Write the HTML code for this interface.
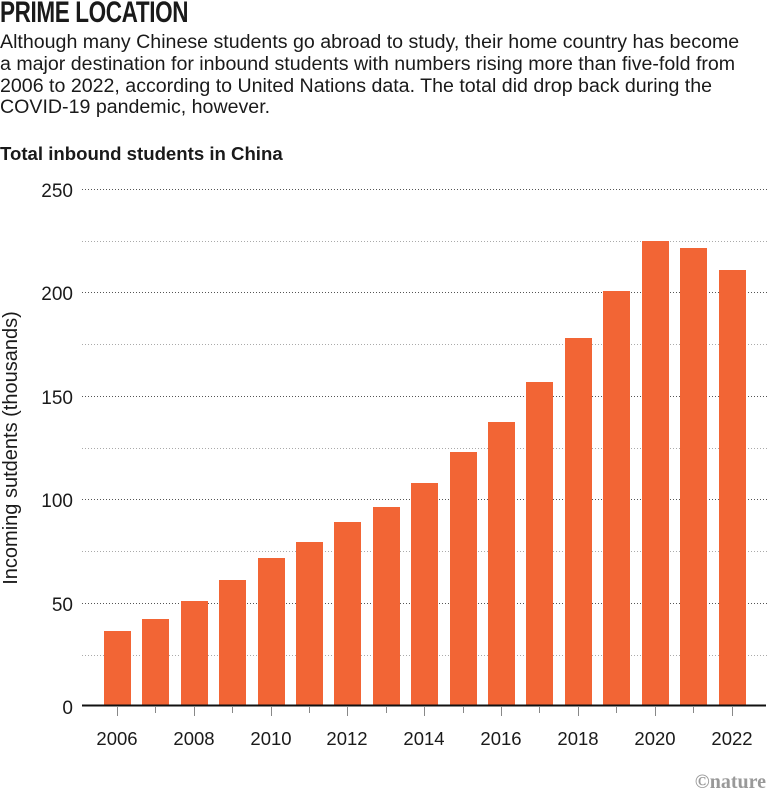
<!DOCTYPE html>
<html><head><meta charset="utf-8"><style>
body{margin:0;background:#fff;width:767px;height:798px;overflow:hidden;font-family:"Liberation Sans",sans-serif;color:#1a1a1a}
.t{position:absolute;left:0;top:-4px;font-weight:bold;font-size:30px;transform:scaleX(0.75);transform-origin:left;letter-spacing:-0.5px}
.d{position:absolute;left:0;top:32px;font-size:19.6px;line-height:21.8px;width:800px;white-space:nowrap}
.s{position:absolute;left:0;top:143px;font-weight:bold;font-size:18.6px}
</style></head><body>
<div class="t">PRIME LOCATION</div>
<div class="d">Although many Chinese students go abroad to study, their home country has become<br>a major destination for inbound students with numbers rising more than five-fold from<br>2006 to 2022, according to United Nations data. The total did drop back during the<br>COVID-19 pandemic, however.</div>
<div class="s">Total inbound students in China</div>
<svg width="767" height="798" style="position:absolute;left:0;top:0" font-family="Liberation Sans, sans-serif">
<g stroke="#555" stroke-width="1" stroke-dasharray="1,2">
<line x1="82" x2="767" y1="189.5" y2="189.5"/>
<line x1="82" x2="767" y1="292.5" y2="292.5"/>
<line x1="82" x2="767" y1="396.5" y2="396.5"/>
<line x1="82" x2="767" y1="499.5" y2="499.5"/>
<line x1="82" x2="767" y1="603.5" y2="603.5"/>
</g>
<g stroke="#aaa" stroke-width="1" stroke-dasharray="1,2">
<line x1="82" x2="767" y1="241.5" y2="241.5"/>
<line x1="82" x2="767" y1="344.5" y2="344.5"/>
<line x1="82" x2="767" y1="448.5" y2="448.5"/>
<line x1="82" x2="767" y1="551.5" y2="551.5"/>
<line x1="82" x2="767" y1="655.5" y2="655.5"/>
</g>
<g font-size="19" fill="#1a1a1a" text-anchor="end">
<text x="73" y="197">250</text><text x="73" y="300">200</text><text x="73" y="404">150</text>
<text x="73" y="507">100</text><text x="73" y="611">50</text><text x="73" y="714">0</text>
</g>
<text transform="translate(17,448) rotate(-90)" font-size="20" text-anchor="middle" fill="#1a1a1a">Incoming sutdents (thousands)</text>
<g fill="#f26535">
<rect x="104" y="631" width="27" height="75"/>
<rect x="142" y="619" width="27" height="87"/>
<rect x="181" y="601" width="27" height="105"/>
<rect x="219" y="580" width="27" height="126"/>
<rect x="258" y="558" width="27" height="148"/>
<rect x="296" y="542" width="27" height="164"/>
<rect x="334" y="522" width="27" height="184"/>
<rect x="373" y="507" width="27" height="199"/>
<rect x="411" y="483" width="27" height="223"/>
<rect x="450" y="452" width="27" height="254"/>
<rect x="488" y="422" width="27" height="284"/>
<rect x="526" y="382" width="27" height="324"/>
<rect x="565" y="338" width="27" height="368"/>
<rect x="603" y="291" width="27" height="415"/>
<rect x="642" y="241" width="27" height="465"/>
<rect x="680" y="248" width="27" height="458"/>
<rect x="719" y="270" width="27" height="436"/>
</g>
<line x1="82" x2="766" y1="705.5" y2="705.5" stroke="#111" stroke-width="2"/>
<g stroke="#888" stroke-width="1">
<line x1="117.5" x2="117.5" y1="706" y2="716"/><line x1="155.5" x2="155.5" y1="706" y2="713"/>
<line x1="194.5" x2="194.5" y1="706" y2="716"/><line x1="232.5" x2="232.5" y1="706" y2="713"/>
<line x1="271.5" x2="271.5" y1="706" y2="716"/><line x1="309.5" x2="309.5" y1="706" y2="713"/>
<line x1="347.5" x2="347.5" y1="706" y2="716"/><line x1="386.5" x2="386.5" y1="706" y2="713"/>
<line x1="424.5" x2="424.5" y1="706" y2="716"/><line x1="463.5" x2="463.5" y1="706" y2="713"/>
<line x1="501.5" x2="501.5" y1="706" y2="716"/><line x1="539.5" x2="539.5" y1="706" y2="713"/>
<line x1="578.5" x2="578.5" y1="706" y2="716"/><line x1="616.5" x2="616.5" y1="706" y2="713"/>
<line x1="655.5" x2="655.5" y1="706" y2="716"/><line x1="693.5" x2="693.5" y1="706" y2="713"/>
<line x1="732.5" x2="732.5" y1="706" y2="716"/>
</g>
<g font-size="18.5" fill="#1a1a1a" text-anchor="middle">
<text x="117" y="745">2006</text><text x="194" y="745">2008</text><text x="271" y="745">2010</text>
<text x="347" y="745">2012</text><text x="424" y="745">2014</text><text x="501" y="745">2016</text>
<text x="578" y="745">2018</text><text x="655" y="745">2020</text><text x="732" y="745">2022</text>
</g>
<text x="766" y="788" font-size="20" font-family="Liberation Serif, serif" font-weight="bold" fill="#999" text-anchor="end">©nature</text>
</svg>
</body></html>
